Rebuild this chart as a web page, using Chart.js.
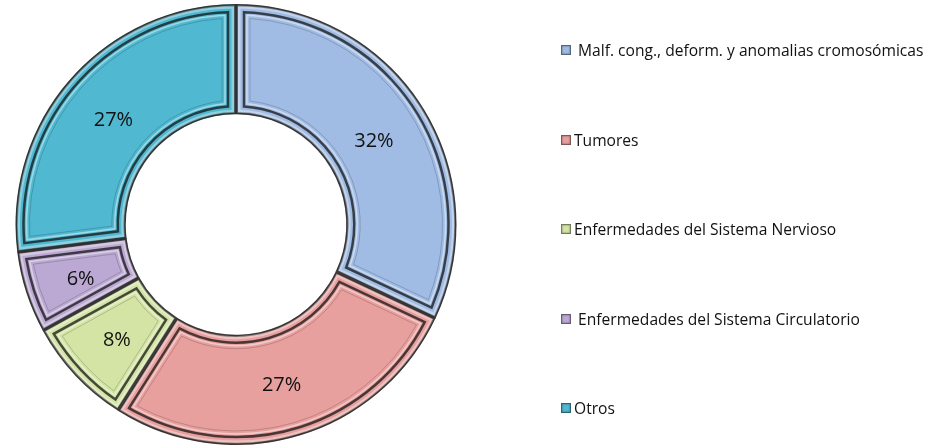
<!DOCTYPE html>
<html>
<head>
<meta charset="utf-8">
<script src="https://cdn.jsdelivr.net/npm/chart.js@4"></script>
<style>
  html, body { margin: 0; padding: 0; background: #fff; }
  #wrap { position: relative; width: 941px; height: 445px; overflow: hidden; }
  #chartBox { position: absolute; left: 0; top: 0; width: 472px; height: 447px; }
  #legend { position: absolute; left: 0; top: 0; width: 941px; height: 445px; pointer-events: none; }
  .item { position: absolute; left: 561px; display: flex; align-items: center;
          font-family: "Open Sans", "Liberation Sans", sans-serif; font-size: 15.6px; color: #111; white-space: pre; }
  .box { width: 10px; height: 10px; margin-right: 3px; box-sizing: border-box;
         border: 1px solid rgba(0,0,0,0.45); box-shadow: inset 0 0 2px rgba(0,0,0,0.5); }
</style>
</head>
<body>
<div id="wrap">
  <div id="chartBox"><canvas id="c"></canvas></div>
  <div id="legend"></div>
</div>
<script>
// data
const labels = [
  ' Malf. cong., deform. y anomalias cromosómicas',
  'Tumores',
  'Enfermedades del Sistema Nervioso',
  ' Enfermedades del Sistema Circulatorio',
  'Otros'
];
const values = [32, 27, 8, 6, 27];
const colors = ['#a0bce4', '#e8a09e', '#d3e4a5', '#bca9d3', '#50b9d1'];
const legendY = [50, 140, 229, 319, 408];

// bevel look + percent labels
const bevel = {
  id: 'bevel',
  afterDatasetsDraw(chart) {
    const ctx = chart.ctx;
    const meta = chart.getDatasetMeta(0);
    const sum = values.reduce((a, b) => a + b, 0);
    meta.data.forEach((arc, i) => {
      const p = arc.getProps(['x', 'y', 'startAngle', 'endAngle', 'innerRadius', 'outerRadius'], true);
      const insetPath = (d) => {
        const R = p.outerRadius - d, r = p.innerRadius + d;
        ctx.beginPath();
        ctx.arc(p.x, p.y, R, p.startAngle + d / R, p.endAngle - d / R);
        ctx.arc(p.x, p.y, r, p.endAngle - d / r, p.startAngle + d / r, true);
        ctx.closePath();
      };
      ctx.save();
      insetPath(3);
      ctx.strokeStyle = 'rgba(255,255,255,0.35)';
      ctx.lineWidth = 3;
      ctx.stroke();
      insetPath(8);
      ctx.strokeStyle = 'rgba(20,20,20,0.75)';
      ctx.lineWidth = 2.5;
      ctx.stroke();
      insetPath(11);
      ctx.strokeStyle = 'rgba(255,255,255,0.45)';
      ctx.lineWidth = 1.5;
      ctx.stroke();
      insetPath(14);
      ctx.strokeStyle = 'rgba(0,0,0,0.18)';
      ctx.lineWidth = 1;
      ctx.stroke();

      // label
      const mid = (p.startAngle + p.endAngle) / 2;
      const rr = (p.innerRadius + p.outerRadius) / 2 - 2;
      ctx.fillStyle = '#111';
      ctx.font = '20px "Open Sans", "Liberation Sans", sans-serif';
      ctx.textAlign = 'center';
      ctx.textBaseline = 'middle';
      ctx.fillText(Math.round(values[i] / sum * 100) + '%', p.x + Math.cos(mid) * rr, p.y + Math.sin(mid) * rr + 4);
      ctx.restore();
    });
  }
};

new Chart(document.getElementById('c'), {
  type: 'doughnut',
  data: {
    labels: labels,
    datasets: [{
      data: values,
      backgroundColor: colors,
      borderColor: 'rgba(30,30,30,0.85)',
      borderWidth: 2,
      borderJoinStyle: 'miter',
      borderAlign: 'inner'
    }]
  },
  options: {
    responsive: true,
    maintainAspectRatio: false,
    animation: false,
    cutout: '50%',
    layout: { padding: { top: 4, bottom: 2 } },
    plugins: { legend: { display: false }, tooltip: { enabled: false } }
  },
  plugins: [bevel]
});

// legend
const legendEl = document.getElementById('legend');
labels.forEach((lab, i) => {
  const d = document.createElement('div');
  d.className = 'item';
  d.style.top = (legendY[i] - 11) + 'px';
  const b = document.createElement('span');
  b.className = 'box';
  b.style.background = colors[i];
  const t = document.createElement('span');
  t.textContent = lab;
  d.appendChild(b);
  d.appendChild(t);
  legendEl.appendChild(d);
});
</script>
</body>
</html>
